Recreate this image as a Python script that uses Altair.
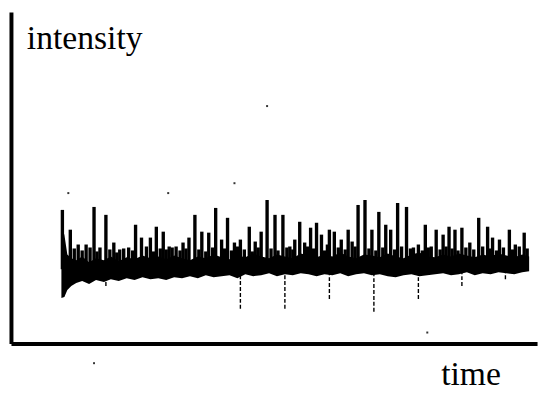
import altair as alt
import pandas as pd

# Baseline band (time, upper and lower edge of the noisy baseline)
band_t = [51, 54, 57, 61, 66, 72, 79, 86, 94, 101, 109, 117, 125, 133, 141, 149,
          157, 165, 173, 181, 189, 197, 205, 213, 221, 229, 237, 245, 253, 261,
          269, 277, 285, 293, 301, 309, 317, 325, 333, 341, 349, 357, 365, 373,
          381, 389, 397, 405, 413, 421, 429, 437, 445, 453, 461, 469, 477, 485,
          493, 501, 509, 517, 524]
band_hi = [118, 110, 90, 86, 84, 88, 82, 86, 84, 88, 83, 87, 85, 89, 86, 88,
           85, 89, 86, 84, 88, 86, 90, 87, 85, 89, 87, 91, 88, 86,
           90, 88, 86, 91, 89, 87, 90, 88, 92, 88, 86, 90, 89, 87,
           91, 88, 86, 90, 92, 88, 87, 90, 88, 91, 89, 87, 90, 88,
           91, 89, 87, 90, 88]
band_lo = [46, 47, 54, 58, 61, 63, 60, 64, 62, 65, 63, 66, 64, 67, 65, 66,
           64, 67, 66, 68, 66, 69, 67, 68, 69, 66, 70, 68, 69, 71,
           68, 70, 69, 71, 70, 68, 70, 69, 71, 68, 70, 71, 69, 70,
           68, 67, 69, 70, 68, 69, 70, 71, 69, 70, 72, 69, 71, 70,
           72, 71, 70, 72, 73]

# Upward spikes (time, peak intensity), tall ones then short ones
spike_t = [52, 60, 68, 76, 84, 90, 96, 104, 110, 119, 126, 132, 141, 147, 154,
           160, 167, 174, 180, 186, 193, 200, 207, 213, 219, 226, 232, 241, 247,
           253, 259, 267, 275, 282, 287, 292, 297, 303, 309, 314, 320, 322, 327,
           334, 341, 345, 351, 358, 365, 372, 379, 384, 391, 400, 407, 419, 425,
           430, 437, 443, 449, 456, 464, 473, 482, 487, 494, 504, 510, 519,
           64, 72, 80, 87, 100, 107, 114, 123, 137, 144, 151, 157, 163, 171, 177,
           190, 197, 204, 216, 223, 229, 236, 244, 250, 263, 270, 279, 285, 300,
           306, 317, 331, 338, 348, 362, 369, 376, 388, 395, 404, 412, 416, 422,
           434, 440, 446, 452, 460, 468, 477, 485, 491, 498, 507, 514, 522]
spike_top = [135, 115, 100, 100, 138, 97, 130, 102, 95, 97, 120, 107, 107, 118, 113,
             98, 98, 102, 107, 130, 113, 112, 137, 105, 127, 102, 105, 118, 103,
             113, 145, 130, 130, 98, 105, 123, 102, 117, 122, 110, 100, 115, 113,
             105, 115, 103, 140, 145, 115, 133, 120, 115, 142, 138, 97, 120, 98,
             115, 110, 118, 115, 117, 102, 127, 118, 107, 105, 115, 100, 112,
             96, 94, 97, 93, 95, 92, 96, 94, 98, 93, 96, 95, 97, 94, 96,
             95, 93, 97, 96, 94, 98, 95, 93, 97, 96, 94, 97, 95, 98,
             96, 94, 97, 95, 98, 96, 94, 97, 95, 98, 96, 100, 94, 97,
             95, 98, 96, 94, 97, 95, 98, 96, 94, 97, 95, 98, 96]

# Downward spikes (time, lowest intensity)
drop_t = [53, 96, 232, 277, 322, 367, 412, 456, 500]
drop_low = [47, 58, 35, 35, 45, 32, 45, 58, 65]

# Isolated specks
dot_t = [58, 159, 226, 259, 421, 84]
dot_i = [152, 152, 162, 240, 11, -20]

BASE = 75

band = pd.DataFrame({"t": band_t, "hi": band_hi, "lo": band_lo})
spikes = pd.DataFrame({"t": spike_t, "top": spike_top, "base": [BASE] * len(spike_t)})
drops = pd.DataFrame({"t": drop_t, "low": drop_low, "base": [BASE] * len(drop_t)})
dots = pd.DataFrame({"t": dot_t, "i": dot_i})

xs = alt.Scale(domain=[0, 532], nice=False, zero=False)
ys = alt.Scale(domain=[0, 335], nice=False, zero=False)
ax = alt.Axis(domain=True, domainColor="black", domainWidth=4, ticks=False,
              labels=False, grid=False, title=None)

band_layer = alt.Chart(band).mark_area(color="black", interpolate="linear").encode(
    x=alt.X("t:Q", scale=xs, axis=ax),
    y=alt.Y("hi:Q", scale=ys, axis=ax),
    y2="lo:Q",
)

spike_layer = alt.Chart(spikes).mark_rule(color="black", strokeWidth=3.4).encode(
    x=alt.X("t:Q", scale=xs, axis=ax),
    y=alt.Y("top:Q", scale=ys, axis=ax),
    y2="base:Q",
)

drop_layer = alt.Chart(drops).mark_rule(color="black", strokeWidth=1.4, strokeDash=[4, 2]).encode(
    x=alt.X("t:Q", scale=xs, axis=ax),
    y=alt.Y("low:Q", scale=ys, axis=ax),
    y2="base:Q",
)

dot_layer = alt.Chart(dots).mark_square(color="black", size=4, opacity=0.8).encode(
    x=alt.X("t:Q", scale=xs, axis=ax),
    y=alt.Y("i:Q", scale=ys, axis=ax),
)

lbl_y = alt.Chart(pd.DataFrame({"label": ["intensity"]})).mark_text(
    font="Liberation Serif", fontSize=34, align="left", baseline="alphabetic", color="black"
).encode(x=alt.value(16), y=alt.value(37), text="label:N")

lbl_x = alt.Chart(pd.DataFrame({"label": ["time"]})).mark_text(
    font="Liberation Serif", fontSize=34, align="left", baseline="alphabetic", color="black"
).encode(x=alt.value(435), y=alt.value(377), text="label:N")

chart = alt.layer(band_layer, spike_layer, drop_layer, dot_layer, lbl_y, lbl_x).properties(
    width=532, height=335,
    padding={"left": 3, "top": 2, "right": 5, "bottom": 50},
    autosize="none",
).configure_view(stroke=None)

chart.save("out.html", embed_options={"renderer": "svg", "actions": False})
